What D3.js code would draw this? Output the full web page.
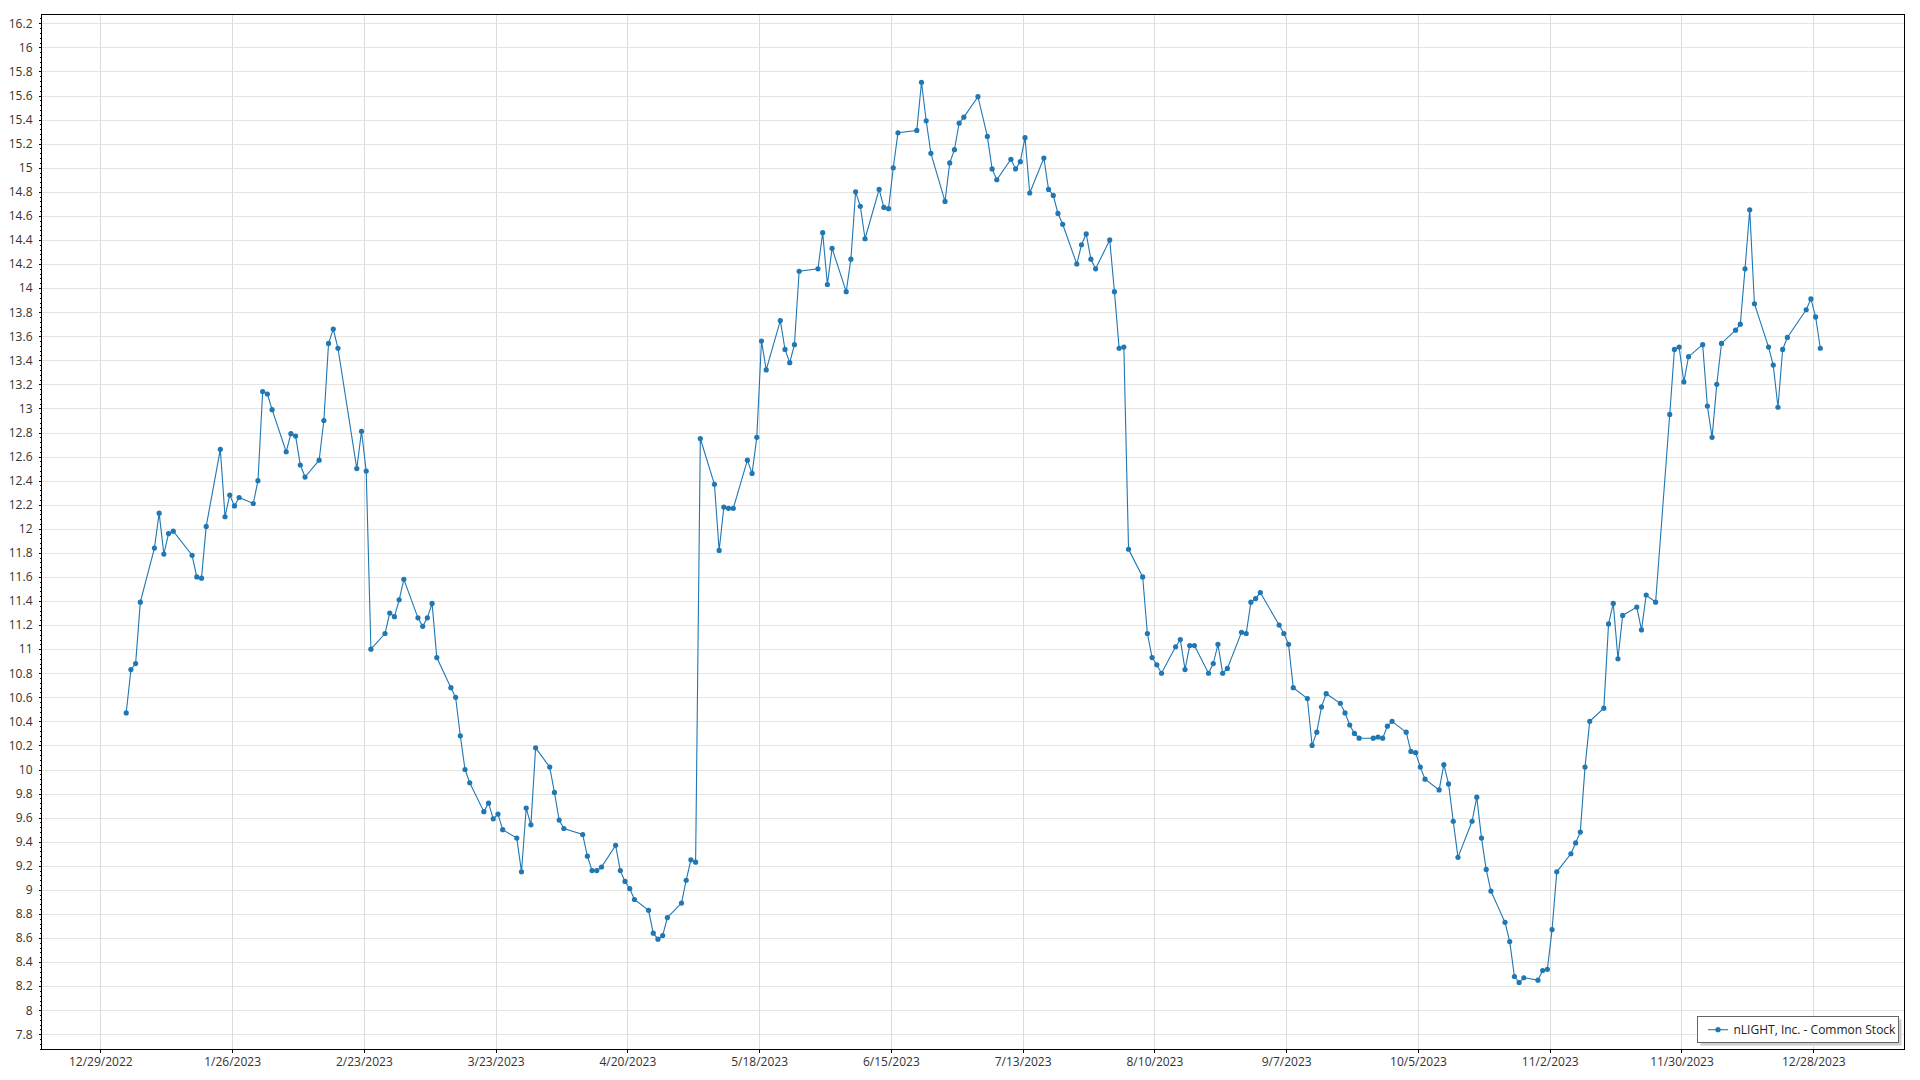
<!DOCTYPE html>
<html><head><meta charset="utf-8">
<script src="https://cdn.jsdelivr.net/npm/d3@7"></script>
<style>
html,body{margin:0;padding:0;background:#fff;}
svg{display:block;}
text{font-family:"Open Sans","Noto Sans",sans-serif;}
</style>
</head><body>
<svg id="chart" width="1920" height="1080"></svg>
<script>
const seriesName = "nLIGHT, Inc. - Common Stock";
const dataYear = "2023";
const dates = [
"01-03","01-04","01-05","01-06","01-09","01-10","01-11","01-12","01-13","01-17","01-18","01-19","01-20","01-23","01-24","01-25","01-26","01-27","01-30","01-31",
"02-01","02-02","02-03","02-06","02-07","02-08","02-09","02-10","02-13","02-14","02-15","02-16","02-17","02-21","02-22","02-23","02-24","02-27","02-28",
"03-01","03-02","03-03","03-06","03-07","03-08","03-09","03-10","03-13","03-14","03-15","03-16","03-17","03-20","03-21","03-22","03-23","03-24","03-27","03-28","03-29","03-30","03-31",
"04-03","04-04","04-05","04-06","04-10","04-11","04-12","04-13","04-14","04-17","04-18","04-19","04-20","04-21","04-24","04-25","04-26","04-27","04-28",
"05-01","05-02","05-03","05-04","05-05","05-08","05-09","05-10","05-11","05-12","05-15","05-16","05-17","05-18","05-19","05-22","05-23","05-24","05-25","05-26","05-30","05-31",
"06-01","06-02","06-05","06-06","06-07","06-08","06-09","06-12","06-13","06-14","06-15","06-16","06-20","06-21","06-22","06-23","06-26","06-27","06-28","06-29","06-30",
"07-03","07-05","07-06","07-07","07-10","07-11","07-12","07-13","07-14","07-17","07-18","07-19","07-20","07-21","07-24","07-25","07-26","07-27","07-28","07-31",
"08-01","08-02","08-03","08-04","08-07","08-08","08-09","08-10","08-11","08-14","08-15","08-16","08-17","08-18","08-21","08-22","08-23","08-24","08-25","08-28","08-29","08-30","08-31",
"09-01","09-05","09-06","09-07","09-08","09-11","09-12","09-13","09-14","09-15","09-18","09-19","09-20","09-21","09-22","09-25","09-26","09-27","09-28","09-29",
"10-02","10-03","10-04","10-05","10-06","10-09","10-10","10-11","10-12","10-13","10-16","10-17","10-18","10-19","10-20","10-23","10-24","10-25","10-26","10-27","10-30","10-31",
"11-01","11-02","11-03","11-06","11-07","11-08","11-09","11-10","11-13","11-14","11-15","11-16","11-17","11-20","11-21","11-22","11-24","11-27","11-28","11-29","11-30",
"12-01","12-04","12-05","12-06","12-07","12-08","12-11","12-12","12-13","12-14","12-15","12-18","12-19","12-20","12-21","12-22","12-26","12-27","12-28","12-29"
];
const prices = [
10.47,10.83,10.88,11.39,11.84,12.13,11.79,11.96,11.98,11.78,11.60,11.59,12.02,12.66,12.10,12.28,12.19,12.26,12.21,12.40,
13.14,13.12,12.99,12.64,12.79,12.77,12.53,12.43,12.57,12.90,13.54,13.66,13.50,12.50,12.81,12.48,11.00,11.13,11.30,
11.27,11.41,11.58,11.26,11.19,11.26,11.38,10.93,10.68,10.60,10.28,10.00,9.89,9.65,9.72,9.59,9.63,9.50,9.43,9.15,9.68,9.54,10.18,
10.02,9.81,9.58,9.51,9.46,9.28,9.16,9.16,9.19,9.37,9.16,9.07,9.01,8.92,8.83,8.64,8.59,8.62,8.77,
8.89,9.08,9.25,9.23,12.75,12.37,11.82,12.18,12.17,12.17,12.57,12.46,12.76,13.56,13.32,13.73,13.49,13.38,13.53,14.14,14.16,14.46,
14.03,14.33,13.97,14.24,14.80,14.68,14.41,14.82,14.67,14.66,15.00,15.29,15.31,15.71,15.39,15.12,14.72,15.04,15.15,15.37,15.42,
15.59,15.26,14.99,14.90,15.07,14.99,15.05,15.25,14.79,15.08,14.82,14.77,14.62,14.53,14.20,14.36,14.45,14.24,14.16,14.40,
13.97,13.50,13.51,11.83,11.60,11.13,10.93,10.87,10.80,11.02,11.08,10.83,11.03,11.03,10.80,10.88,11.04,10.80,10.84,11.14,11.13,11.39,11.42,
11.47,11.20,11.13,11.04,10.68,10.59,10.20,10.31,10.52,10.63,10.55,10.47,10.37,10.30,10.26,10.26,10.27,10.26,10.36,10.40,
10.31,10.15,10.14,10.02,9.92,9.83,10.04,9.88,9.57,9.27,9.57,9.77,9.43,9.17,8.99,8.73,8.57,8.28,8.23,8.27,8.25,8.33,
8.34,8.67,9.15,9.30,9.39,9.48,10.02,10.40,10.51,11.21,11.38,10.92,11.28,11.35,11.16,11.45,11.39,12.95,13.49,13.51,13.22,
13.43,13.53,13.02,12.76,13.20,13.54,13.65,13.70,14.16,14.65,13.87,13.51,13.36,13.01,13.49,13.59,13.82,13.91,13.76,13.50
];
const xTickLabels = ["12/29/2022","1/26/2023","2/23/2023","3/23/2023","4/20/2023","5/18/2023","6/15/2023","7/13/2023","8/10/2023","9/7/2023","10/5/2023","11/2/2023","11/30/2023","12/28/2023"];
const yTickValues = [7.8,8,8.2,8.4,8.6,8.8,9,9.2,9.4,9.6,9.8,10,10.2,10.4,10.6,10.8,11,11.2,11.4,11.6,11.8,12,12.2,12.4,12.6,12.8,13,13.2,13.4,13.6,13.8,14,14.2,14.4,14.6,14.8,15,15.2,15.4,15.6,15.8,16,16.2];

if (dates.length !== prices.length) console.error("length mismatch", dates.length, prices.length);

const parseDay = d3.utcParse("%Y-%m-%d");
const parseTick = d3.utcParse("%m/%d/%Y");
const data = dates.map((d, i) => ({date: parseDay(dataYear + "-" + d), value: prices[i]}));
const tickDates = xTickLabels.map(parseTick);

const plot = {left: 42.3, top: 15, right: 1905.3, bottom: 1050.3};
const DAY = 864e5;
const anchor = tickDates[0].getTime();
const x = d3.scaleUtc()
  .domain([new Date(anchor - 12.33 * DAY), new Date(anchor + 383.56 * DAY)])
  .range([plot.left, plot.right]);
const y = d3.scaleLinear().domain([7.667, 16.269]).range([plot.bottom, plot.top]);
const px = d => x(d3.utcHour.offset(d.date, 12));

const svg = d3.select("#chart");
const snap = v => Math.round(v) + 0.5;
const W = plot.right - plot.left, H = plot.bottom - plot.top;

// grid
const grid = svg.append("g").attr("shape-rendering", "crispEdges");
grid.selectAll("line.h").data(yTickValues).join("line")
  .attr("x1", plot.left).attr("x2", plot.right)
  .attr("y1", d => snap(y(d))).attr("y2", d => snap(y(d)))
  .attr("stroke", "#e4e4e4").attr("stroke-width", 1);
grid.selectAll("line.v").data(tickDates).join("line")
  .attr("y1", plot.top).attr("y2", plot.bottom)
  .attr("x1", d => snap(x(d))).attr("x2", d => snap(x(d)))
  .attr("stroke", "#dcdcdc").attr("stroke-width", 1);

// series
const color = "#1f77b4";
svg.append("path").datum(data)
  .attr("fill", "none").attr("stroke", color).attr("stroke-width", 1.1)
  .attr("d", d3.line().x(px).y(d => y(d.value)));
svg.append("g").selectAll("circle").data(data).join("circle")
  .attr("cx", px).attr("cy", d => y(d.value)).attr("r", 2.6).attr("fill", color);

// frame
svg.append("rect")
  .attr("x", snap(plot.left) - 1).attr("y", snap(plot.top) - 1)
  .attr("width", Math.round(W)).attr("height", Math.round(H))
  .attr("fill", "none").attr("stroke", "#000").attr("stroke-width", 1)
  .attr("shape-rendering", "crispEdges");

// y axis
const yAxis = d3.axisLeft(y).tickValues(yTickValues).tickSize(3).tickPadding(6)
  .tickFormat(d => String(+d.toFixed(1)));
const gy = svg.append("g").attr("transform", `translate(${snap(plot.left) - 1},0)`).call(yAxis);
gy.select(".domain").remove();
gy.selectAll(".tick line").attr("stroke", "#000").attr("shape-rendering", "crispEdges");
gy.selectAll(".tick text").attr("font-size", 12).attr("fill", "#333")
  .attr("font-family", '"Open Sans","Noto Sans",sans-serif');
// minor ticks
const minor = d3.range(7.68, 16.27, 0.04).filter(v => !yTickValues.some(t => Math.abs(t - v) < 1e-6));
svg.append("g").attr("shape-rendering", "crispEdges").selectAll("line").data(minor).join("line")
  .attr("x1", snap(plot.left) - 3).attr("x2", snap(plot.left) - 1)
  .attr("y1", d => snap(y(d))).attr("y2", d => snap(y(d)))
  .attr("stroke", "#000");

// x axis
const xAxis = d3.axisBottom(x).tickValues(tickDates).tickSize(3).tickPadding(5)
  .tickFormat((d, i) => xTickLabels[i]);
const gx = svg.append("g").attr("transform", `translate(0,${snap(plot.bottom) - 1})`).call(xAxis);
gx.select(".domain").remove();
gx.selectAll(".tick line").attr("stroke", "#000").attr("shape-rendering", "crispEdges");
gx.selectAll(".tick text").attr("font-size", 12).attr("fill", "#333")
  .attr("font-family", '"Open Sans","Noto Sans",sans-serif');

// legend
const lg = svg.append("g");
const lb = {x: 1697.5, y: 1016.5, w: 201, h: 26};
lg.append("rect").attr("x", lb.x + 3).attr("y", lb.y + 3).attr("width", lb.w).attr("height", lb.h)
  .attr("fill", "#cfcfcf");
lg.append("rect").attr("x", lb.x).attr("y", lb.y).attr("width", lb.w).attr("height", lb.h)
  .attr("fill", "#fff").attr("stroke", "#666").attr("stroke-width", 1).attr("shape-rendering", "crispEdges");
lg.append("line").attr("x1", 1708).attr("x2", 1728).attr("y1", 1029.7).attr("y2", 1029.7)
  .attr("stroke", color).attr("stroke-width", 1.1);
lg.append("circle").attr("cx", 1718).attr("cy", 1029.7).attr("r", 2.6).attr("fill", color);
lg.append("text").attr("x", 1733.5).attr("y", 1029.7).attr("dy", "0.35em")
  .attr("font-size", 12).attr("fill", "#222").text(seriesName);
</script>
</body></html>
